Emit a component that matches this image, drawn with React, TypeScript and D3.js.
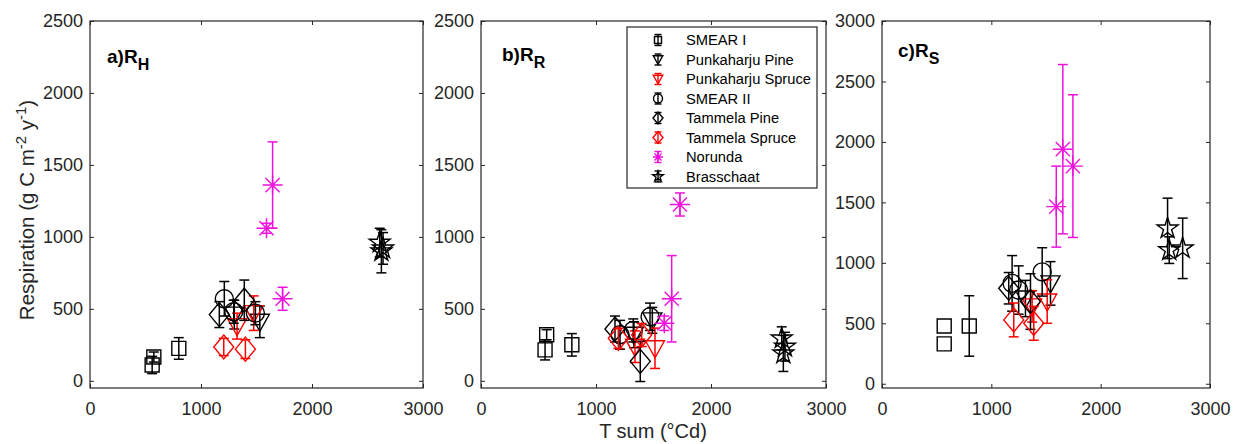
import React, { useEffect, useRef } from 'react';
import * as d3 from 'd3';

const siteNames = ['SMEAR I', 'Punkaharju Pine', 'Punkaharju Spruce', 'SMEAR II', 'Tammela Pine', 'Tammela Spruce', 'Norunda', 'Brasschaat'];
const siteSymbols = ['square', 'triangleDown', 'triangleDown', 'circle', 'diamond', 'diamond', 'asterisk', 'star'];
const siteColors = ['#000000', '#000000', '#ff0000', '#000000', '#000000', '#ff0000', '#ee11dd', '#000000'];

// [T sum, respiration, error] per site-year, lists in siteNames order
const rhPoints = [
  [[560, 110, 60], [575, 165, 35], [800, 225, 75]],
  [[1300, 460, 100], [1530, 410, 110]],
  [[1325, 380, 90], [1475, 470, 120]],
  [[1210, 570, 120], [1295, 480, 80], [1490, 470, 80]],
  [[1165, 460, 90], [1390, 560, 140]],
  [[1205, 235, 60], [1400, 220, 65]],
  [[1590, 1060, 35], [1645, 1360, 300], [1735, 570, 80]],
  [[2610, 960, 100], [2625, 900, 150], [2640, 920, 110]],
];

const rrPoints = [
  [[557, 215, 70], [571, 320, 35], [790, 250, 78]],
  [[1330, 320, 90], [1490, 420, 90]],
  [[1339, 237, 110], [1513, 226, 140]],
  [[1209, 320, 100], [1324, 350, 80], [1470, 445, 95]],
  [[1165, 360, 90], [1385, 135, 140]],
  [[1194, 295, 70], [1397, 318, 80]],
  [[1594, 400, 50], [1658, 570, 300], [1730, 1225, 80]],
  [[2615, 295, 80], [2643, 237, 100], [2629, 190, 125]],
];

const rsPoints = [
  [[569, 330, 0], [569, 478, 0], [798, 478, 250]],
  [[1312, 705, 150], [1541, 830, 180]],
  [[1373, 640, 130], [1511, 680, 180]],
  [[1190, 830, 230], [1250, 775, 200], [1465, 925, 200]],
  [[1159, 790, 130], [1358, 680, 230]],
  [[1205, 528, 140], [1388, 500, 140]],
  [[1594, 1465, 335], [1654, 1940, 700], [1746, 1800, 590]],
  [[2612, 1285, 250], [2627, 1105, 110], [2750, 1120, 250]],
];

const xTicks = [0, 1000, 2000, 3000];
const yTicksAB = [0, 500, 1000, 1500, 2000, 2500];
const yTicksC = [0, 500, 1000, 1500, 2000, 2500, 3000];

const axisColor = '#262626';
const font = 'Liberation Sans, Arial, Helvetica, sans-serif';

const markerPath = (sym: string, s: number) => {
  if (sym === 'square') {
    const h = 7 * s;
    return `M${-h},${-h}H${h}V${h}H${-h}Z`;
  }
  if (sym === 'circle') {
    const r = 9 * s;
    return `M${r},0A${r},${r} 0 1 1 ${-r},0A${r},${r} 0 1 1 ${r},0Z`;
  }
  if (sym === 'triangleDown') {
    const w = 9.5 * s;
    return `M${-w},${-7.5 * s}L${w},${-7.5 * s}L0,${9.5 * s}Z`;
  }
  if (sym === 'diamond') {
    const w = 10 * s, h = 12 * s;
    return `M0,${-h}L${w},0L0,${h}L${-w},0Z`;
  }
  if (sym === 'asterisk') {
    const r = 10 * s, d = r * 0.707;
    return `M${-r},0H${r}M0,${-r}V${r}M${-d},${-d}L${d},${d}M${-d},${d}L${d},${-d}`;
  }
  // pentagram
  const R = 11 * s, ri = R * 0.382;
  const pts = d3.range(10).map(i => {
    const a = -Math.PI / 2 + (i * Math.PI) / 5;
    const rr = i % 2 === 0 ? R : ri;
    return [rr * Math.cos(a), rr * Math.sin(a)];
  });
  return 'M' + pts.map(p => p.join(',')).join('L') + 'Z';
};

const panels = [
  { title: 'a)R', sub: 'H', points: rhPoints, yMin: -50, yMax: 2500, yTicks: yTicksAB, left: 90, right: 423, titleX: 107, titleY: 63 },
  { title: 'b)R', sub: 'R', points: rrPoints, yMin: -50, yMax: 2500, yTicks: yTicksAB, left: 481, right: 826, titleX: 502, titleY: 61 },
  { title: 'c)R', sub: 'S', points: rsPoints, yMin: -35, yMax: 3000, yTicks: yTicksC, left: 882, right: 1210, titleX: 898, titleY: 57 },
];

const App = () => {
  const svgRef = useRef<SVGSVGElement>(null);

  useEffect(() => {
    const svg = d3.select(svgRef.current);
    svg.selectAll('*').remove();
    const top = 21;
    const bottom = 388;

    panels.forEach((p, pi) => {
      const x = d3.scaleLinear().domain([0, 3000]).range([p.left, p.right]);
      const y = d3.scaleLinear().domain([p.yMin, p.yMax]).range([bottom, top]);
      const g = svg.append('g');

      g.append('rect')
        .attr('x', p.left).attr('y', top)
        .attr('width', p.right - p.left).attr('height', bottom - top)
        .attr('fill', 'white');

      const styleAxis = (a: any) => {
        a.select('.domain').remove();
        a.attr('color', axisColor).attr('font-family', font).attr('font-size', 18);
        a.selectAll('.tick text').attr('fill', axisColor);
      };

      g.append('g').attr('transform', `translate(0,${bottom})`)
        .call(d3.axisBottom(x).tickValues(xTicks).tickSize(-4).tickPadding(14).tickFormat(d3.format('d')))
        .call(styleAxis);
      g.append('g').attr('transform', `translate(0,${top})`)
        .call(d3.axisTop(x).tickValues(xTicks).tickSize(-4).tickFormat(() => ''))
        .call(styleAxis);
      g.append('g').attr('transform', `translate(${p.left},0)`)
        .call(d3.axisLeft(y).tickValues(p.yTicks).tickSize(-4).tickPadding(7).tickFormat(d3.format('d')))
        .call(styleAxis);
      g.append('g').attr('transform', `translate(${p.right},0)`)
        .call(d3.axisRight(y).tickValues(p.yTicks).tickSize(-4).tickFormat(() => ''))
        .call(styleAxis);

      g.append('rect')
        .attr('x', p.left).attr('y', top)
        .attr('width', p.right - p.left).attr('height', bottom - top)
        .attr('fill', 'none').attr('stroke', axisColor).attr('stroke-width', 1.2);

      p.points.forEach((pts, si) => {
        const color = siteColors[si];
        pts.forEach(([tx, r, e]) => {
          const cx = x(tx), cy = y(r);
          if (e > 0) {
            const y1 = y(r - e), y2 = y(r + e);
            g.append('line').attr('x1', cx).attr('x2', cx).attr('y1', y1).attr('y2', y2)
              .attr('stroke', color).attr('stroke-width', 1.5);
            [y1, y2].forEach(yy => {
              g.append('line').attr('x1', cx - 5).attr('x2', cx + 5).attr('y1', yy).attr('y2', yy)
                .attr('stroke', color).attr('stroke-width', 1.5);
            });
          }
          g.append('path')
            .attr('d', markerPath(siteSymbols[si], 1))
            .attr('transform', `translate(${cx},${cy})`)
            .attr('fill', 'none').attr('stroke', color).attr('stroke-width', 1.4);
        });
      });

      const t = g.append('text')
        .attr('x', p.titleX).attr('y', p.titleY)
        .attr('font-family', font).attr('font-weight', 'bold').attr('font-size', 19).attr('fill', '#000');
      t.append('tspan').text(p.title);
      t.append('tspan').attr('font-size', 16).attr('dy', 7).text(p.sub);

      if (pi === 1) {
        const lg = g.append('g');
        const lx = 627, ly = 27, lw = 190, lh = 161;
        lg.append('rect').attr('x', lx).attr('y', ly).attr('width', lw).attr('height', lh)
          .attr('fill', 'white').attr('stroke', axisColor).attr('stroke-width', 1.2);
        siteNames.forEach((name, si) => {
          const ry = 40 + si * 19.5;
          const mx = 658;
          const color = siteColors[si];
          lg.append('line').attr('x1', mx).attr('x2', mx).attr('y1', ry - 5.5).attr('y2', ry + 5.5)
            .attr('stroke', color).attr('stroke-width', 1.4);
          [ry - 5.5, ry + 5.5].forEach(yy => {
            lg.append('line').attr('x1', mx - 3.5).attr('x2', mx + 3.5).attr('y1', yy).attr('y2', yy)
              .attr('stroke', color).attr('stroke-width', 1.4);
          });
          lg.append('path').attr('d', markerPath(siteSymbols[si], 0.5))
            .attr('transform', `translate(${mx},${ry})`)
            .attr('fill', 'none').attr('stroke', color).attr('stroke-width', 1.4);
          lg.append('text').attr('x', 686).attr('y', ry).attr('dy', '0.35em')
            .attr('font-family', font).attr('font-size', 14.7).attr('fill', '#000').text(name);
        });
      }
    });

    svg.append('text')
      .attr('x', 653).attr('y', 438)
      .attr('text-anchor', 'middle')
      .attr('font-family', font).attr('font-size', 20).attr('fill', axisColor)
      .text('T sum (°Cd)');

    const yl = svg.append('text')
      .attr('transform', 'translate(34,210) rotate(-90)')
      .attr('text-anchor', 'middle')
      .attr('font-family', font).attr('font-size', 20.5).attr('fill', axisColor);
    yl.append('tspan').text('Respiration (g C m');
    yl.append('tspan').attr('font-size', 15).attr('dy', -8).text('-2');
    yl.append('tspan').attr('dy', 8).text(' y');
    yl.append('tspan').attr('font-size', 15).attr('dy', -8).text('-1');
    yl.append('tspan').attr('dy', 8).text(')');
  }, []);

  return (
    <svg ref={svgRef} width={1236} height={444}
      style={{ position: 'absolute', left: 0, top: 0, background: 'white' }} />
  );
};

export default App;
